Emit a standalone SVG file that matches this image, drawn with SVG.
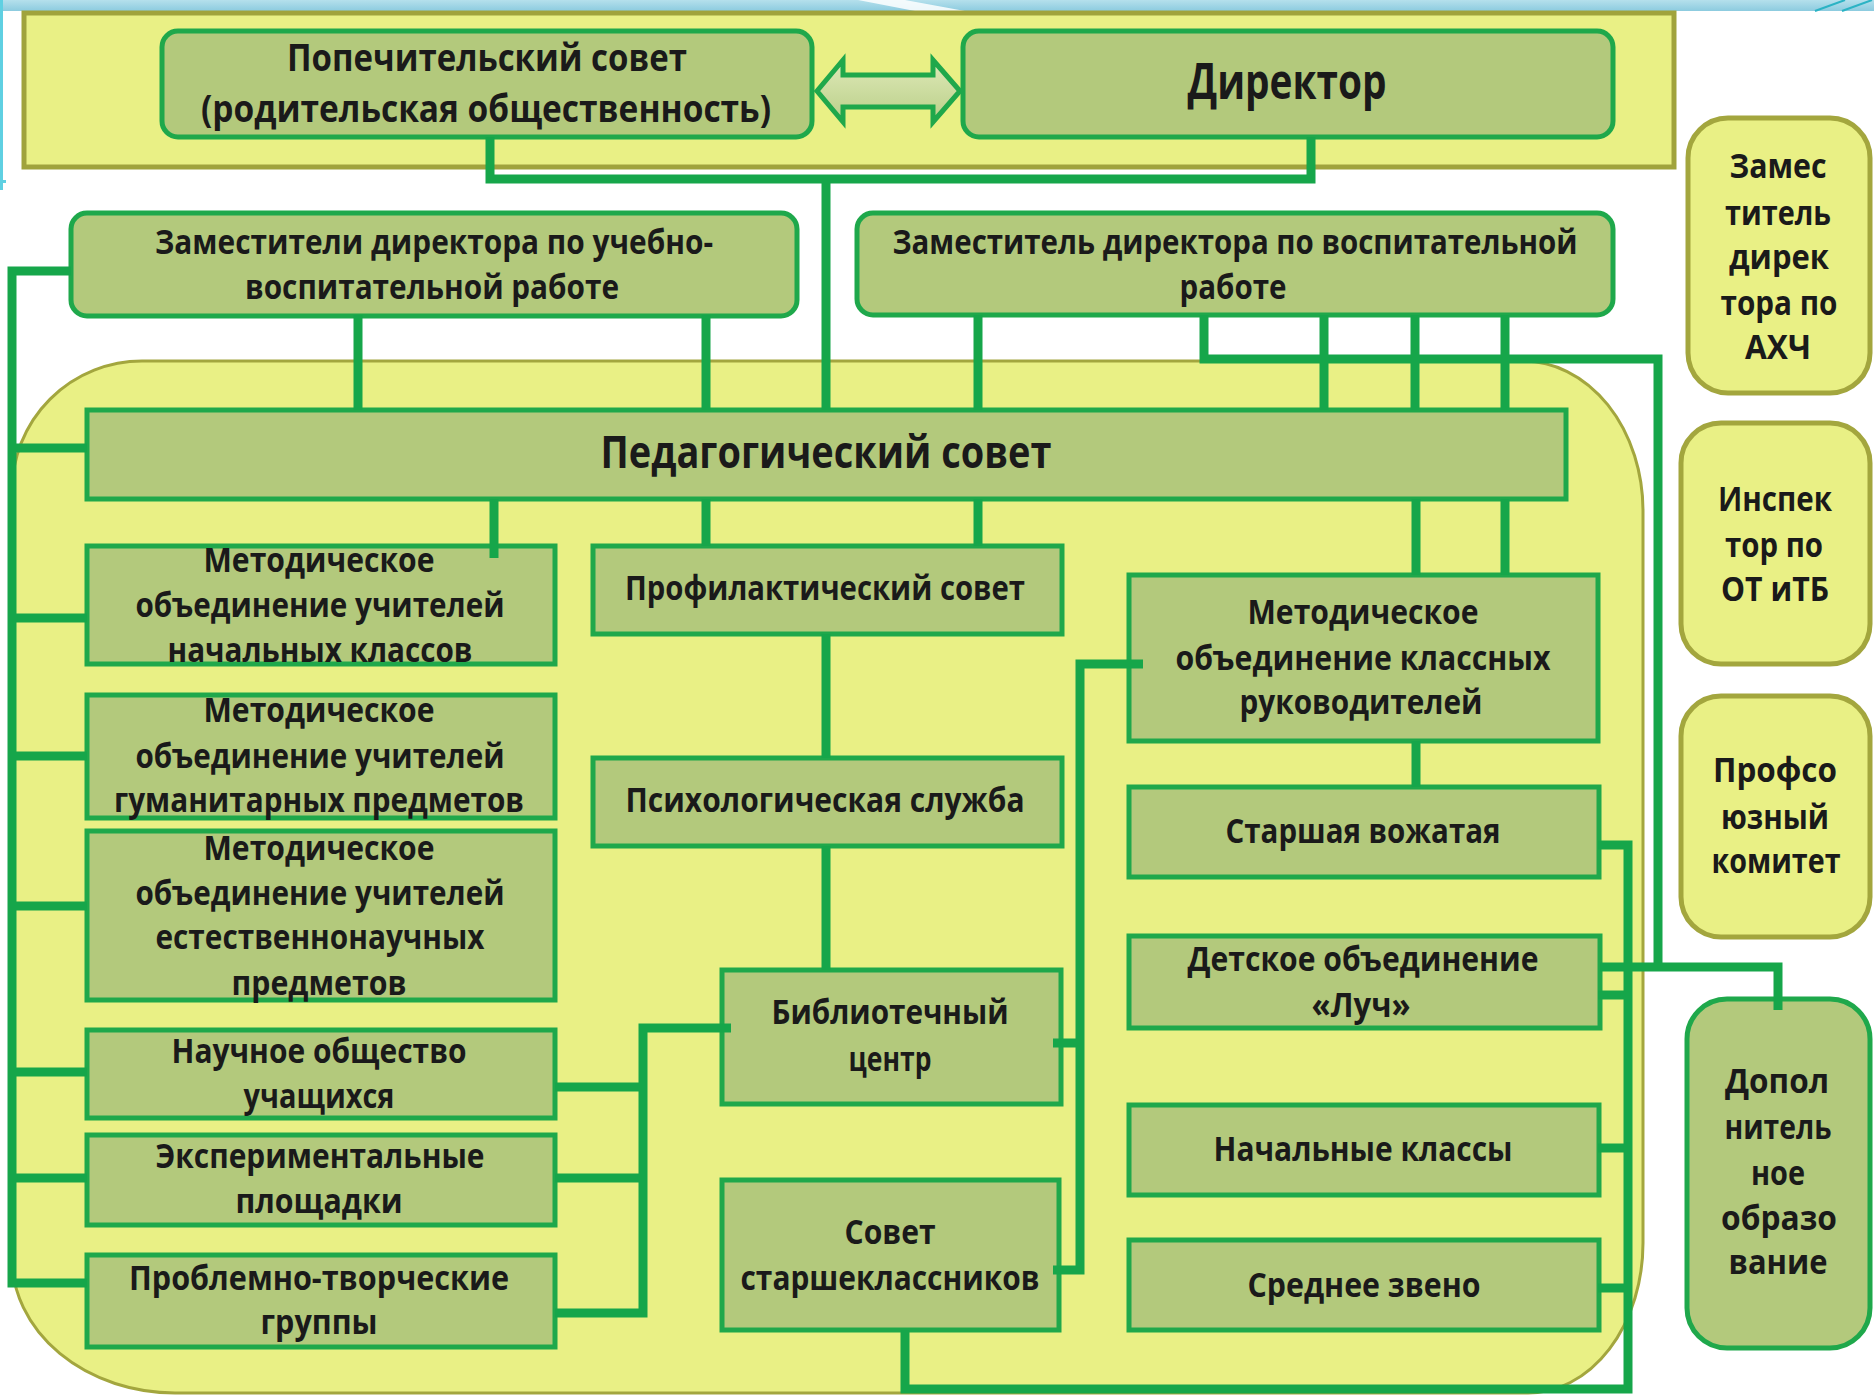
<svg xmlns="http://www.w3.org/2000/svg" width="1874" height="1397" viewBox="0 0 1874 1397">
<defs>
<linearGradient id="band" x1="0" y1="0" x2="0" y2="1"><stop offset="0" stop-color="#b5e0ec"/><stop offset="1" stop-color="#8ccbdf"/></linearGradient>
<linearGradient id="arr" x1="0" y1="0" x2="0" y2="1"><stop offset="0" stop-color="#dfe9b8"/><stop offset="1" stop-color="#b9cf88"/></linearGradient>
<style>
.box{fill:#b3c97c;stroke:#1fa84b;stroke-width:5}
.ybox{fill:#e9f085;stroke:#a3a63e;stroke-width:5}
.conn{fill:none;stroke:#16a64a;stroke-width:9;stroke-linejoin:miter}
text{font-family:'Open Sans','Noto Sans','DejaVu Sans',sans-serif;font-weight:700;fill:#1a1a1a;text-anchor:middle;font-size:34px}
.big{font-size:45px}
.dir{font-size:50px}
.pop{font-size:38px}
</style>
</defs>
<rect width="1874" height="1397" fill="#ffffff"/>
<g id="decor">
<rect x="0" y="0" width="1874" height="11" fill="url(#band)"/>
<polygon points="858,0 905,0 965,11 915,11" fill="#ffffff" opacity="0.85"/>
<line x1="1815" y1="11" x2="1845" y2="0" stroke="#2bb3c4" stroke-width="2"/>
<line x1="1842" y1="11" x2="1872" y2="0" stroke="#2bb3c4" stroke-width="2"/>
<rect x="0" y="0" width="3" height="190" fill="#5fd0e2"/>
<rect x="0" y="180" width="6" height="3" fill="#5fd0e2"/>
</g>
<g id="region">
<path d="M142 361 H1523 A120 150 0 0 1 1643 511 V1243 A115 150 0 0 1 1528 1393 H175 A163 135 0 0 1 12 1258 V491 A130 130 0 0 1 142 361 Z" fill="#e9f085" stroke="#a3a63e" stroke-width="3"/>
<rect x="24" y="13" width="1650" height="154" fill="#e9f085" stroke="#a0a33c" stroke-width="5"/>
</g>
<g id="n-popech">
<rect class="box" x="162" y="31" width="650" height="106" rx="16"/>
<text x="487" y="71" class="pop" textLength="400" lengthAdjust="spacingAndGlyphs">Попечительский  совет</text>
<text x="486" y="122" class="pop" textLength="570" lengthAdjust="spacingAndGlyphs">(родительская общественность)</text>
</g>
<g id="n-arrow">
<polygon points="817,91 843,60 843,75 933,75 933,60 960,91 933,122 933,107 843,107 843,122" fill="url(#arr)" stroke="#1fa84b" stroke-width="5"/>
</g>
<g id="n-director">
<rect class="box" x="963" y="31" width="650" height="106" rx="16"/>
<text x="1287" y="99" class="dir" textLength="199" lengthAdjust="spacingAndGlyphs">Директор</text>
</g>
<g id="n-zam-uvr">
<rect class="box" x="71" y="213" width="726" height="103" rx="16"/>
<text x="434" y="254" textLength="558" lengthAdjust="spacingAndGlyphs">Заместители директора по учебно-</text>
<text x="432" y="299" textLength="374" lengthAdjust="spacingAndGlyphs">воспитательной работе</text>
</g>
<g id="n-zam-vr">
<rect class="box" x="857" y="213" width="756" height="102" rx="16"/>
<text x="1235" y="254" textLength="685" lengthAdjust="spacingAndGlyphs">Заместитель директора по воспитательной</text>
<text x="1233" y="299" textLength="107" lengthAdjust="spacingAndGlyphs">работе</text>
</g>
<g id="n-pedsovet">
<rect class="box" x="87" y="410" width="1479" height="89"/>
<text x="826" y="468" class="big" textLength="451" lengthAdjust="spacingAndGlyphs">Педагогический совет</text>
</g>
<g id="n-mo-nach">
<rect class="box" x="87" y="546" width="468" height="118"/>
<text x="319" y="572" textLength="231" lengthAdjust="spacingAndGlyphs">Методическое</text>
<text x="320" y="617" textLength="369" lengthAdjust="spacingAndGlyphs">объединение учителей</text>
<text x="320" y="662" textLength="305" lengthAdjust="spacingAndGlyphs">начальных классов</text>
</g>
<g id="n-mo-gum">
<rect class="box" x="87" y="695" width="468" height="123"/>
<text x="319" y="722" textLength="231" lengthAdjust="spacingAndGlyphs">Методическое</text>
<text x="320" y="768" textLength="369" lengthAdjust="spacingAndGlyphs">объединение учителей</text>
<text x="319" y="812" textLength="410" lengthAdjust="spacingAndGlyphs">гуманитарных предметов</text>
</g>
<g id="n-mo-est">
<rect class="box" x="87" y="831" width="468" height="169"/>
<text x="319" y="860" textLength="231" lengthAdjust="spacingAndGlyphs">Методическое</text>
<text x="320" y="905" textLength="369" lengthAdjust="spacingAndGlyphs">объединение учителей</text>
<text x="320" y="949" textLength="329" lengthAdjust="spacingAndGlyphs">естественнонаучных</text>
<text x="319" y="995" textLength="175" lengthAdjust="spacingAndGlyphs">предметов</text>
</g>
<g id="n-nou">
<rect class="box" x="87" y="1030" width="468" height="88"/>
<text x="319" y="1063" textLength="295" lengthAdjust="spacingAndGlyphs">Научное общество</text>
<text x="319" y="1108" textLength="151" lengthAdjust="spacingAndGlyphs">учащихся</text>
</g>
<g id="n-exp">
<rect class="box" x="87" y="1135" width="468" height="90"/>
<text x="320" y="1168" textLength="329" lengthAdjust="spacingAndGlyphs">Экспериментальные</text>
<text x="319" y="1213" textLength="167" lengthAdjust="spacingAndGlyphs">площадки</text>
</g>
<g id="n-problem">
<rect class="box" x="87" y="1255" width="468" height="92"/>
<text x="319" y="1290" textLength="380" lengthAdjust="spacingAndGlyphs">Проблемно-творческие</text>
<text x="319" y="1334" textLength="117" lengthAdjust="spacingAndGlyphs">группы</text>
</g>
<g id="n-profil">
<rect class="box" x="593" y="546" width="469" height="88"/>
<text x="825" y="600" textLength="400" lengthAdjust="spacingAndGlyphs">Профилактический совет</text>
</g>
<g id="n-psych">
<rect class="box" x="593" y="758" width="469" height="88"/>
<text x="825" y="812" textLength="399" lengthAdjust="spacingAndGlyphs">Психологическая служба</text>
</g>
<g id="n-library">
<rect class="box" x="722" y="970" width="339" height="134"/>
<text x="890" y="1024" textLength="237" lengthAdjust="spacingAndGlyphs">Библиотечный</text>
<text x="890" y="1071" textLength="83" lengthAdjust="spacingAndGlyphs">центр</text>
</g>
<g id="n-sovet-st">
<rect class="box" x="722" y="1180" width="337" height="150"/>
<text x="890" y="1244" textLength="91" lengthAdjust="spacingAndGlyphs">Совет</text>
<text x="890" y="1290" textLength="299" lengthAdjust="spacingAndGlyphs">старшеклассников</text>
</g>
<g id="n-mo-kl">
<rect class="box" x="1129" y="575" width="469" height="166"/>
<text x="1363" y="624" textLength="231" lengthAdjust="spacingAndGlyphs">Методическое</text>
<text x="1363" y="670" textLength="375" lengthAdjust="spacingAndGlyphs">объединение классных</text>
<text x="1361" y="714" textLength="243" lengthAdjust="spacingAndGlyphs">руководителей</text>
</g>
<g id="n-vozh">
<rect class="box" x="1129" y="787" width="470" height="90"/>
<text x="1363" y="843" textLength="275" lengthAdjust="spacingAndGlyphs">Старшая вожатая</text>
</g>
<g id="n-luch">
<rect class="box" x="1129" y="936" width="471" height="92"/>
<text x="1363" y="971" textLength="351" lengthAdjust="spacingAndGlyphs">Детское объединение</text>
<text x="1361" y="1017" textLength="99" lengthAdjust="spacingAndGlyphs">«Луч»</text>
</g>
<g id="n-nach">
<rect class="box" x="1129" y="1105" width="470" height="90"/>
<text x="1363" y="1161" textLength="299" lengthAdjust="spacingAndGlyphs">Начальные классы</text>
</g>
<g id="n-sred">
<rect class="box" x="1129" y="1240" width="470" height="90"/>
<text x="1364" y="1297" textLength="233" lengthAdjust="spacingAndGlyphs">Среднее звено</text>
</g>
<g id="n-zam-ahch">
<rect class="ybox" x="1688" y="118" width="182" height="275" rx="40"/>
<text x="1778" y="178" textLength="97" lengthAdjust="spacingAndGlyphs">Замес</text>
<text x="1778" y="225" textLength="106" lengthAdjust="spacingAndGlyphs">титель</text>
<text x="1779" y="269" textLength="100" lengthAdjust="spacingAndGlyphs">дирек</text>
<text x="1779" y="315" textLength="117" lengthAdjust="spacingAndGlyphs">тора по</text>
<text x="1778" y="359" textLength="66" lengthAdjust="spacingAndGlyphs">АХЧ</text>
</g>
<g id="n-inspector">
<rect class="ybox" x="1681" y="423" width="189" height="241" rx="40"/>
<text x="1775" y="511" textLength="114" lengthAdjust="spacingAndGlyphs">Инспек</text>
<text x="1774" y="557" textLength="98" lengthAdjust="spacingAndGlyphs">тор по</text>
<text x="1775" y="601" textLength="108" lengthAdjust="spacingAndGlyphs">ОТ иТБ</text>
</g>
<g id="n-profkom">
<rect class="ybox" x="1681" y="696" width="189" height="241" rx="40"/>
<text x="1775" y="782" textLength="124" lengthAdjust="spacingAndGlyphs">Профсо</text>
<text x="1775" y="829" textLength="108" lengthAdjust="spacingAndGlyphs">юзный</text>
<text x="1776" y="873" textLength="129" lengthAdjust="spacingAndGlyphs">комитет</text>
</g>
<g id="n-dop">
<rect class="box" x="1687" y="999" width="183" height="349" rx="40"/>
<text x="1777" y="1093" textLength="104" lengthAdjust="spacingAndGlyphs">Допол</text>
<text x="1778" y="1139" textLength="107" lengthAdjust="spacingAndGlyphs">нитель</text>
<text x="1778" y="1185" textLength="54" lengthAdjust="spacingAndGlyphs">ное</text>
<text x="1779" y="1230" textLength="116" lengthAdjust="spacingAndGlyphs">образо</text>
<text x="1778" y="1274" textLength="99" lengthAdjust="spacingAndGlyphs">вание</text>
</g>
<g id="connectors" class="conn">
<path d="M490 137 V179 H1311 V137"/>
<path d="M826 179 V410"/>
<path d="M71 271 H12 V1283 H87"/>
<path d="M12 448 H87 M12 618 H87 M12 756 H87 M12 906 H87 M12 1072 H87 M12 1178 H87"/>
<path d="M358 315 V410 M706 315 V410 M978 315 V410"/>
<path d="M1204 315 V359 H1658 V967"/>
<path d="M1324 315 V410 M1415 315 V410 M1505 315 V410"/>
<path d="M1416 499 V575 M1505 499 V575"/>
<path d="M494 499 V558"/>
<path d="M706 499 V546 M978 499 V546"/>
<path d="M826 634 V758 M826 846 V970"/>
<path d="M731 1028 H643 V1313 H555 M555 1087 H643 M555 1178 H643"/>
<path d="M1143 664 H1080 V1270 H1053 M1053 1043 H1080"/>
<path d="M1416 741 V787"/>
<path d="M1598 845 H1628 V1389 H905 V1330 M1598 995 H1628 M1598 1148 H1628 M1598 1288 H1628"/>
<path d="M1600 967 H1778 V1010"/>
</g>
</svg>
